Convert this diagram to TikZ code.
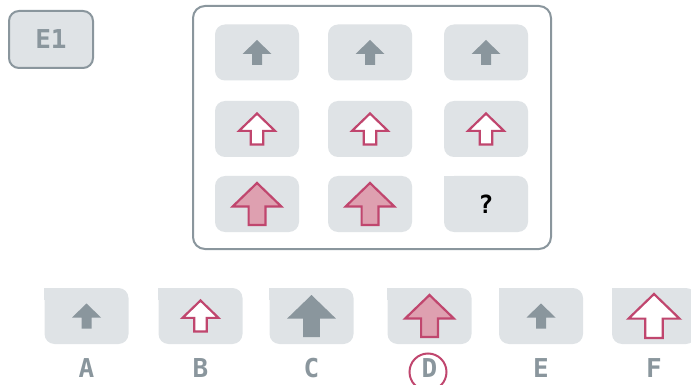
\documentclass[tikz,border=0pt]{standalone}
\usepackage{fontspec}
\newfontfamily\tagfont{DejaVu Sans Mono}
\definecolor{EdgeGray}{RGB}{138,150,157}
\definecolor{TileGray}{RGB}{223,227,230}
\definecolor{RoseRed}{RGB}{192,70,110}
\definecolor{RosePink}{RGB}{222,160,176}
\usepackage{tikz}
\usetikzlibrary{positioning, calc}

\tikzset{
  tile/.style={fill=TileGray, rounded corners=10pt, minimum width=84pt,
               minimum height=56pt, inner sep=0pt},
  uparr/.pic={
    \path[pic actions] (0,-0.5) -- (0.58,0.06) -- (0.2,0.06) -- (0.2,0.5)
      -- (-0.2,0.5) -- (-0.2,0.06) -- (-0.58,0.06) -- cycle;
  },
  grayarr/.style={fill=EdgeGray},
  openarr/.style={draw=RoseRed, fill=white, line width=2.2pt},
  fullarr/.style={draw=RoseRed, fill=RosePink, line width=2.2pt},
  letter/.style={font=\tagfont\bfseries\fontsize{26}{30}\selectfont,
                 text=EdgeGray, inner sep=0pt},
}

\begin{document}
\begin{tikzpicture}[x=1pt, y=-1pt]
  \useasboundingbox (0,0) rectangle (691,385);

  % puzzle tag
  \node[tile, draw=EdgeGray, line width=2pt, minimum height=57pt,
        letter] (e1) at (51,39.5) {E1};

  % the matrix
  \node[draw=EdgeGray, line width=2pt, rounded corners=12pt, fill=white,
        minimum width=358pt, minimum height=243pt] (panel) at (372,127.5) {};

  \foreach \c/\x in {1/257, 2/370, 3/486} {
    \foreach \r/\y in {1/52.5, 2/129, 3/204} {
      \node[tile] (c\r\c) at (\x,\y) {};
    }
  }
  \fill[TileGray] (c33.north west) rectangle ++(12,12);
  \node[font=\tagfont\bfseries\fontsize{25}{28}\selectfont] (q) at (c33) {?};

  \foreach \c in {1,2,3} {
    \pic[grayarr, scale=25] at (c1\c) {uparr};
    \pic[openarr, scale=31] at (c2\c) {uparr};
  }
  \pic[fullarr, scale=42] at (c31) {uparr};
  \pic[fullarr, scale=42] at (c32) {uparr};

  % answer options
  \foreach \n/\x in {A/86.5, B/200.5, C/311.5, D/429.5, E/541, F/654} {
    \node[tile] (ans\n) at (\x,316) {};
    \fill[TileGray] (ans\n.north west) rectangle ++(12,12);
    \node[letter] (lab\n) at (\x,368.5) {\n};
  }
  \pic[grayarr, scale=25] at (ansA) {uparr};
  \pic[openarr, scale=31] at (ansB) {uparr};
  \pic[grayarr, scale=42] at (ansC) {uparr};
  \pic[fullarr, scale=42] at (ansD) {uparr};
  \pic[grayarr, scale=25] at (ansE) {uparr};
  \pic[openarr, scale=44] at (ansF) {uparr};

  % correct choice
  \node[draw=RoseRed, line width=2pt, circle, minimum size=37pt,
        inner sep=0pt] (pick) at (428,372) {};
\end{tikzpicture}
\end{document}
